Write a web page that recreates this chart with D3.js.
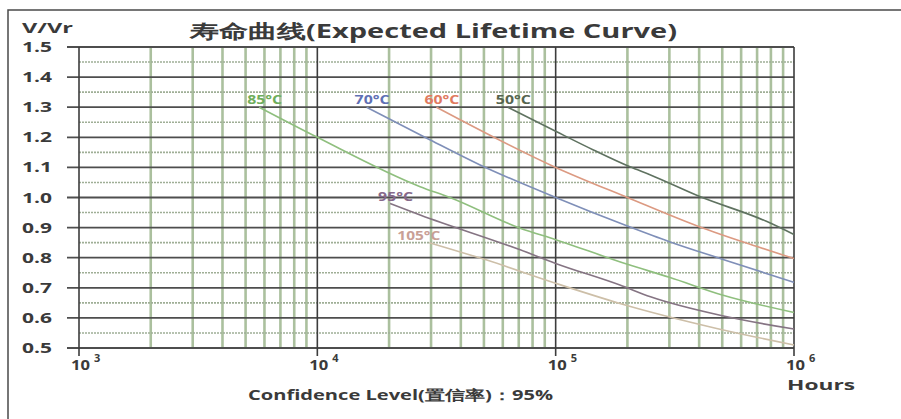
<!DOCTYPE html>
<html>
<head>
<meta charset="utf-8">
<script src="https://cdn.jsdelivr.net/npm/d3@7"></script>
<style>
  body { margin: 0; background: #fff; }
  text { font-family: "Open Sans", "DejaVu Sans", sans-serif; font-weight: 700; fill: #3a3a3a; }
</style>
</head>
<body>
<svg id="chart" width="901" height="419"></svg>
<script>
// series: [hours, V/Vr]
const seriesNames = ["85°C", "70°C", "60°C", "50°C", "95°C", "105°C"];
const life85 = [[5700, 1.30], [10000, 1.20], [27000, 1.036], [36000, 1.0], [71000, 0.898], [100000, 0.86], [200000, 0.778], [300000, 0.735], [500000, 0.676], [1000000, 0.618]];
const life70 = [[16100, 1.30], [28800, 1.197], [48200, 1.108], [100000, 1.0], [200000, 0.905], [300000, 0.853], [500000, 0.795], [1000000, 0.718]];
const life60 = [[31600, 1.30], [100000, 1.10], [200000, 1.0], [400000, 0.903], [700000, 0.837], [1000000, 0.797]];
const life50 = [[63000, 1.30], [100000, 1.22], [144000, 1.158], [205000, 1.102], [250000, 1.075], [400000, 1.004], [770000, 0.92], [1000000, 0.877]];
const life95 = [[20200, 0.98], [27000, 0.942], [71000, 0.826], [100000, 0.781], [186000, 0.709], [250000, 0.67], [500000, 0.607], [1000000, 0.563]];
const life105 = [[29500, 0.85], [51400, 0.792], [100000, 0.715], [186000, 0.648], [474000, 0.565], [1000000, 0.51]];
const seriesData = [life85, life70, life60, life50, life95, life105];

const yTicks = [0.5, 0.6, 0.7, 0.8, 0.9, 1.0, 1.1, 1.2, 1.3, 1.4, 1.5];
const yMinor = [0.55, 0.65, 0.75, 0.85, 0.95, 1.05, 1.15, 1.25, 1.35, 1.45];
const xDecades = [1e3, 1e4, 1e5, 1e6];
const xExponents = ["3", "4", "5", "6"];

const lineColors = { "85°C": "#8fbf7e", "70°C": "#7f8fb8", "60°C": "#dc9a82", "50°C": "#5f7260", "95°C": "#857483", "105°C": "#cdbfa8" };
const labelColors = { "85°C": "#6fae5c", "70°C": "#5f70b4", "60°C": "#e07a60", "50°C": "#56654f", "95°C": "#86698a", "105°C": "#c9a096" };

const svg = d3.select("#chart");
const x = d3.scaleLog().domain([1e3, 1e6]).range([79, 794]);
const y = d3.scaleLinear().domain([0.5, 1.5]).range([348, 47]);

// outer frame (top + left only)
svg.append("path")
  .attr("d", "M8,419V10H901")
  .attr("fill", "none")
  .attr("stroke", "#4a4a4a")
  .attr("stroke-width", 1.5);

// minor vertical lines 2..9 per decade
let xMinor = [];
xDecades.slice(0, 3).forEach(d => {
  for (let k = 2; k <= 9; k++) xMinor.push(d * k);
});

const grid = svg.append("g");
grid.selectAll(".vminor").data(xMinor).join("line")
  .attr("x1", d => x(d)).attr("x2", d => x(d))
  .attr("y1", y(1.5)).attr("y2", y(0.5))
  .attr("stroke", "#abc09e")
  .attr("stroke-width", 2.6);

grid.selectAll(".hminor").data(yMinor).join("line")
  .attr("x1", x(1e3)).attr("x2", x(1e6))
  .attr("y1", d => y(d)).attr("y2", d => y(d))
  .attr("stroke", "#9fae96")
  .attr("stroke-width", 1.6)
  .attr("stroke-dasharray", "2,1");

grid.selectAll(".hmajor").data(yTicks).join("line")
  .attr("x1", x(1e3) - 12).attr("x2", x(1e6))
  .attr("y1", d => y(d)).attr("y2", d => y(d))
  .attr("stroke", "#4e4e4e")
  .attr("stroke-width", 1.8);

grid.selectAll(".vmajor").data(xDecades).join("line")
  .attr("x1", d => x(d)).attr("x2", d => x(d))
  .attr("y1", y(1.5)).attr("y2", y(0.5) + 8)
  .attr("stroke", "#3c3c3c")
  .attr("stroke-width", 1.6);

// curves
const line = d3.line()
  .x(d => x(d[0]))
  .y(d => y(d[1]))
  .curve(d3.curveMonotoneX);

const curves = svg.append("g");
seriesData.forEach((pts, i) => {
  let name = seriesNames[i];
  curves.append("path")
    .attr("d", line(pts))
    .attr("fill", "none")
    .attr("stroke", lineColors[name])
    .attr("stroke-width", 1.6);

  let start = pts[0];
  let wide = name.length > 4;
  curves.append("text")
    .attr("x", x(start[0]) + (wide ? -32 : -12))
    .attr("y", y(start[1]) - 3)
    .attr("font-size", "12px")
    .attr("textLength", wide ? 43 : 35).attr("lengthAdjust", "spacingAndGlyphs")
    .style("fill", labelColors[name])
    .text(name);
});

// texts
svg.append("text")
  .attr("x", 190).attr("y", 38)
  .attr("font-size", "19px")
  .attr("textLength", 487).attr("lengthAdjust", "spacingAndGlyphs")
  .text("寿命曲线(Expected Lifetime Curve)");

svg.append("text")
  .attr("x", 22).attr("y", 33)
  .attr("font-size", "14px")
  .attr("textLength", 51).attr("lengthAdjust", "spacingAndGlyphs")
  .text("V/Vr");

svg.selectAll(".ylab").data(yTicks).join("text")
  .attr("x", 22).attr("y", d => y(d) + 5)
  .attr("font-size", "14px")
  .attr("textLength", 30).attr("lengthAdjust", "spacingAndGlyphs")
  .text(d => d.toFixed(1));

xDecades.forEach((d, i) => {
  svg.append("text")
    .attr("x", x(d) - 8).attr("y", 370)
    .attr("font-size", "14px")
    .attr("textLength", 19).attr("lengthAdjust", "spacingAndGlyphs")
    .text("10");
  svg.append("text")
    .attr("x", x(d) + 15).attr("y", 362)
    .attr("font-size", "11px")
    .text(xExponents[i]);
});

svg.append("text")
  .attr("x", 787).attr("y", 390)
  .attr("font-size", "15px")
  .attr("textLength", 68).attr("lengthAdjust", "spacingAndGlyphs")
  .text("Hours");

svg.append("text")
  .attr("x", 248).attr("y", 400)
  .attr("font-size", "14px")
  .attr("textLength", 305).attr("lengthAdjust", "spacingAndGlyphs")
  .text("Confidence Level(置信率)：95%");
</script>
</body>
</html>
